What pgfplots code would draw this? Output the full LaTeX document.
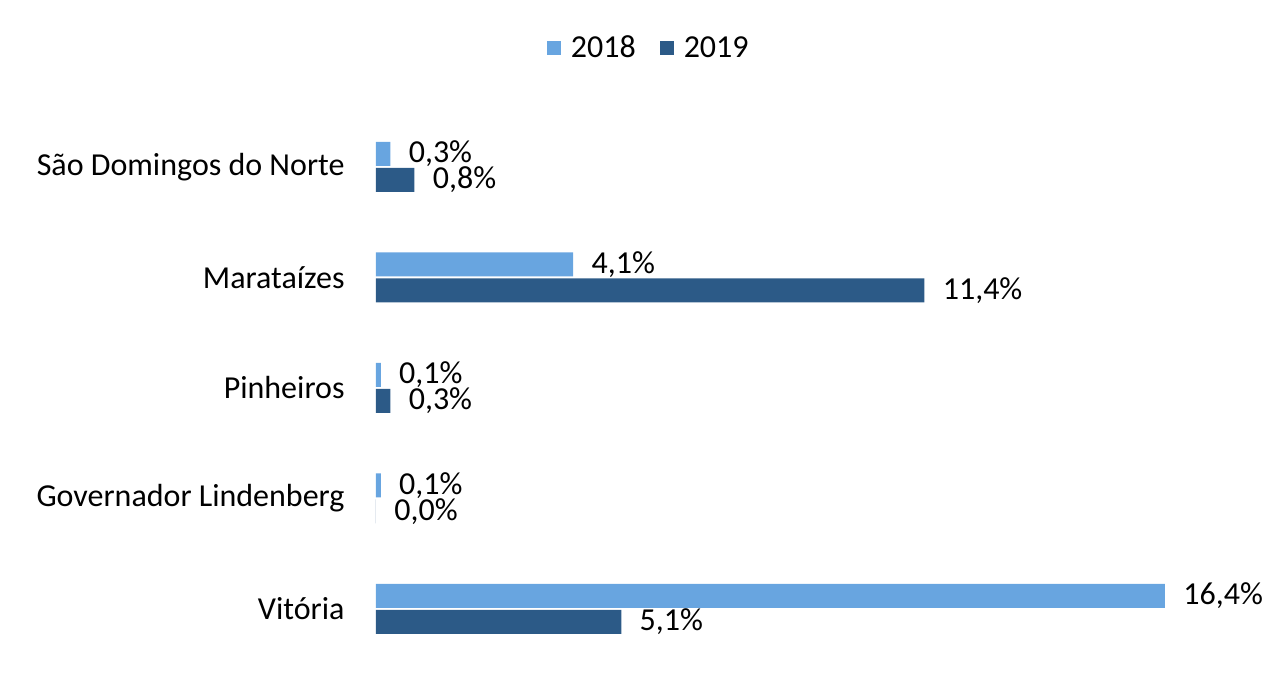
\documentclass[border=0pt]{standalone}
\usepackage{fontspec}
\setmainfont{Carlito}
\usepackage{pgfplots}
\pgfplotsset{compat=1.18}
\definecolor{c2018}{HTML}{68A5E0}
\definecolor{c2019}{HTML}{2C5A87}
\newcommand{\lblfont}{\fontsize{16}{18}\selectfont}
\begin{document}
\begin{tikzpicture}
\begin{axis}[
  xbar,
  scale only axis,
  width=394.5pt, height=276.25pt,
  xmin=0, xmax=16.4, ymin=-0.5, ymax=4.5,
  clip=false,
  axis line style={draw=none},
  xtick=\empty,
  ytick={0,1,2,3,4},
  yticklabels={Vitória, Governador Lindenberg, Pinheiros, Marataízes, São Domingos do Norte},
  major tick length=0pt,
  yticklabel style={font=\lblfont, inner sep=0pt, anchor=east, xshift=-15.5pt},
  bar width=12pt,
  /pgf/number format/assume math mode=true,
  nodes near coords={\pgfmathprintnumber[fixed,fixed zerofill,precision=1,use comma]{\pgfplotspointmeta}\%},
  nodes near coords style={font=\lblfont, anchor=west, inner sep=0pt, xshift=9pt},
  legend image code/.code={\fill[#1] (0pt,-3.5pt) rectangle (7pt,3.5pt);},
  legend style={draw=none, fill=none, legend columns=2, at={(0.347,1.115)}, anchor=center,
    font=\lblfont,
    /tikz/every odd column/.append style={column sep=3pt},
    /tikz/every even column/.append style={column sep=10pt}},
]
\addplot[fill=c2018, draw=none, bar shift=6.5pt] coordinates {
  (0.3,4) (4.1,3) (0.1,2) (0.1,1) (16.4,0)
};
\addplot[fill=c2019, draw=none, bar shift=-6.5pt] coordinates {
  (0.8,4) (11.4,3) (0.3,2) (0.0,1) (5.1,0)
};
\legend{2018,2019}
\path (axis cs:-7.815,-0.769) rectangle (axis cs:18.50,5.511);
\end{axis}
\end{tikzpicture}
\end{document}
